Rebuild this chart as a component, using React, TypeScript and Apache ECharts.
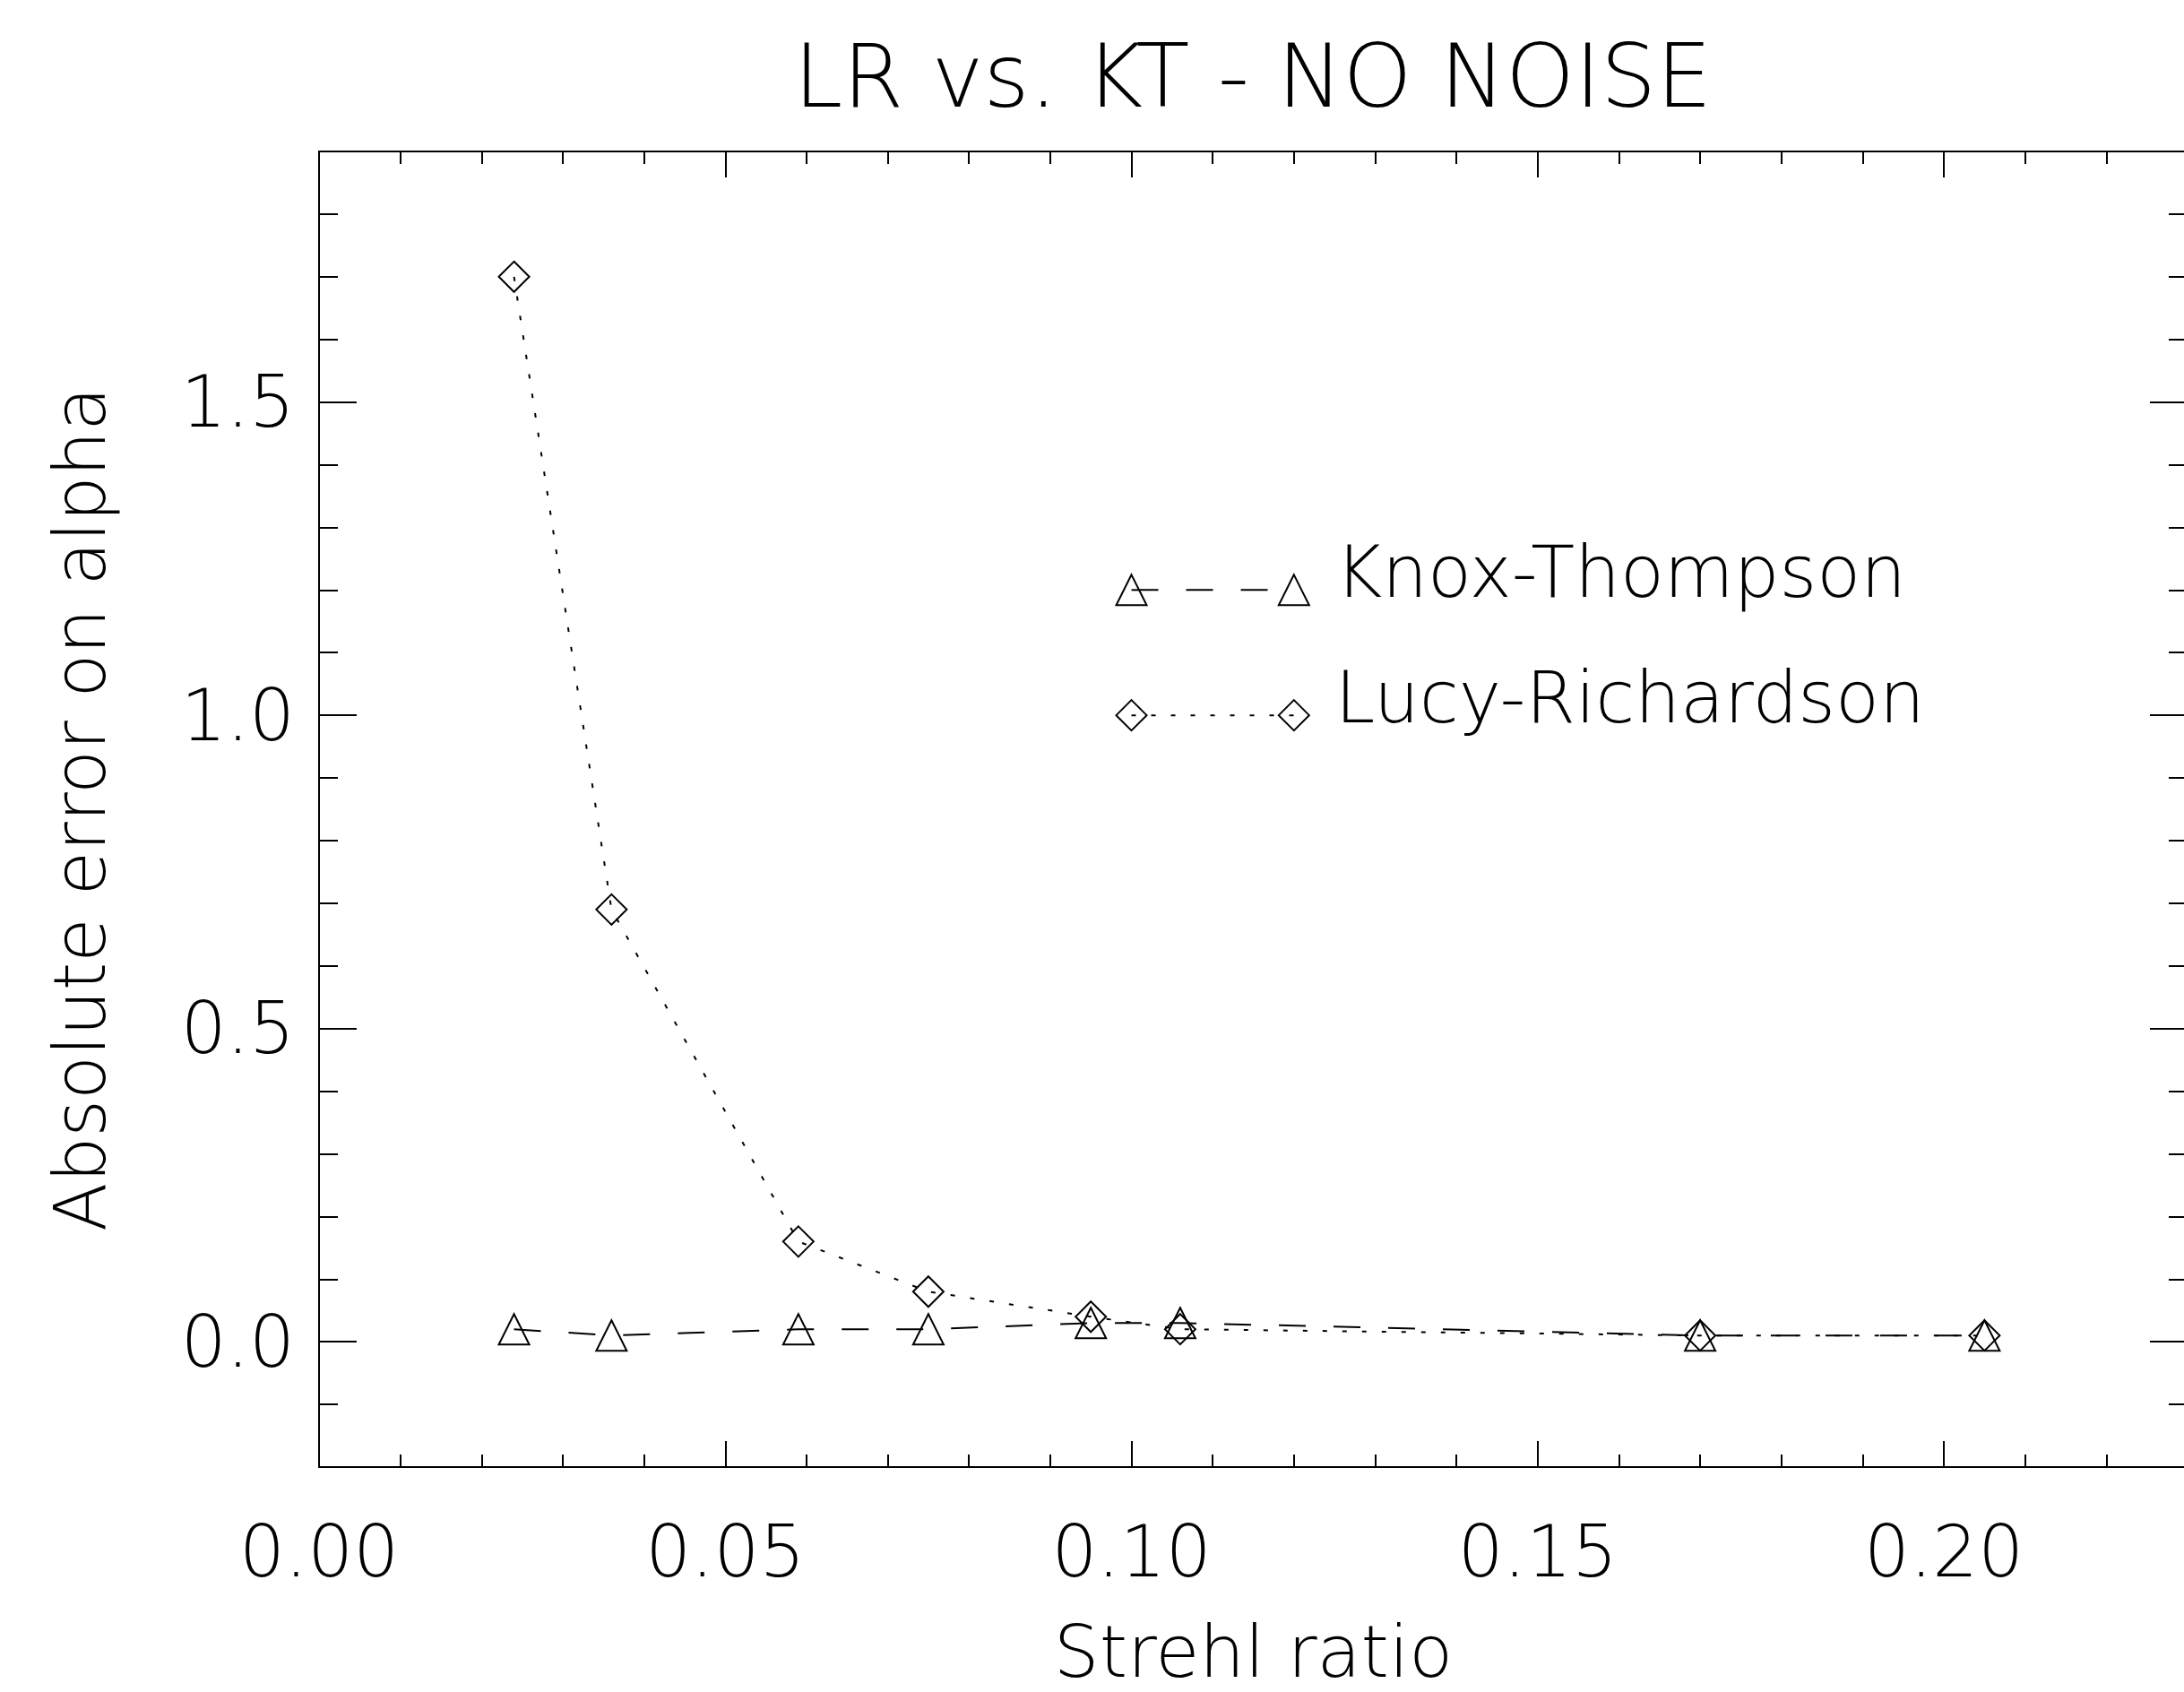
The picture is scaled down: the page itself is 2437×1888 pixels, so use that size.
import React, { useEffect, useRef } from "react";
import * as echarts from "echarts";

// ---- data ----
const strehlRatio = [0.024, 0.036, 0.059, 0.075, 0.095, 0.106, 0.170, 0.205];
const knoxThompson = [0.020, 0.010, 0.020, 0.020, 0.030, 0.030, 0.010, 0.010];
const lucyRichardson = [1.70, 0.69, 0.160, 0.080, 0.040, 0.020, 0.010, 0.010];

// ---- axes ----
const xRange = [0, 0.23];
const yRange = [-0.2, 1.9];
const xMajorTicks = [0.0, 0.05, 0.1, 0.15, 0.2];
const xMinorTicks = [
  0.0, 0.01, 0.02, 0.03, 0.04, 0.05, 0.06, 0.07, 0.08, 0.09, 0.1, 0.11,
  0.12, 0.13, 0.14, 0.15, 0.16, 0.17, 0.18, 0.19, 0.2, 0.21, 0.22, 0.23,
];
const yMajorTicks = [0.0, 0.5, 1.0, 1.5];
const yMinorTicks = [
  -0.2, -0.1, 0.0, 0.1, 0.2, 0.3, 0.4, 0.5, 0.6, 0.7, 0.8, 0.9, 1.0, 1.1,
  1.2, 1.3, 1.4, 1.5, 1.6, 1.7, 1.8, 1.9,
];

// ---- legend (drawn in data space, as in the original) ----
const legendX = [0.1, 0.12];
const legendYKnox = 1.2;
const legendYLucy = 1.0;

// ---- texts ----
const titleText = "LR vs. KT - NO NOISE";
const xAxisName = "Strehl ratio";
const yAxisName = "Absolute error on alpha";
const knoxName = "Knox-Thompson";
const lucyName = "Lucy-Richardson";

const FONT = "'DejaVu Sans', sans-serif";
const FW = 200;
const INK = "#000";

export default function App() {
  const ref = useRef<HTMLDivElement>(null);

  useEffect(() => {
    if (!ref.current) return;
    const chart = echarts.init(ref.current, undefined, { renderer: "svg" });

    const textStyle = { fontFamily: FONT, fontWeight: FW, color: INK };

    const majorX = (pos: string, labels: boolean) => ({
      type: "value",
      position: pos,
      min: xRange[0],
      max: xRange[1],
      axisLine: { show: true, onZero: false, lineStyle: { color: INK, width: 2 } },
      axisTick: {
        show: true,
        inside: true,
        length: 29,
        customValues: xMajorTicks,
        lineStyle: { color: INK, width: 2 },
      },
      axisLabel: labels
        ? {
            show: true,
            customValues: xMajorTicks,
            formatter: (v: number) => v.toFixed(2),
            margin: 54,
            fontSize: 80,
            ...textStyle,
          }
        : { show: false },
      splitLine: { show: false },
      ...(labels
        ? {
            name: xAxisName,
            nameLocation: "middle",
            nameGap: 166,
            nameTextStyle: { fontSize: 80, ...textStyle },
          }
        : {}),
    });
    const minorX = (pos: string) => ({
      type: "value",
      position: pos,
      min: xRange[0],
      max: xRange[1],
      axisLine: { show: false, onZero: false },
      axisTick: {
        show: true,
        inside: true,
        length: 14,
        customValues: xMinorTicks,
        lineStyle: { color: INK, width: 2 },
      },
      axisLabel: { show: false },
      splitLine: { show: false },
    });
    const majorY = (pos: string, labels: boolean) => ({
      type: "value",
      position: pos,
      min: yRange[0],
      max: yRange[1],
      axisLine: { show: true, onZero: false, lineStyle: { color: INK, width: 2 } },
      axisTick: {
        show: true,
        inside: true,
        length: 42,
        customValues: yMajorTicks,
        lineStyle: { color: INK, width: 2 },
      },
      axisLabel: labels
        ? {
            show: true,
            customValues: yMajorTicks,
            formatter: (v: number) => v.toFixed(1),
            margin: 27,
            fontSize: 80,
            ...textStyle,
          }
        : { show: false },
      splitLine: { show: false },
      ...(labels
        ? {
            name: yAxisName,
            nameLocation: "middle",
            nameGap: 227,
            nameTextStyle: { fontSize: 80, ...textStyle },
          }
        : {}),
    });
    const minorY = (pos: string) => ({
      type: "value",
      position: pos,
      min: yRange[0],
      max: yRange[1],
      axisLine: { show: false, onZero: false },
      axisTick: {
        show: true,
        inside: true,
        length: 21,
        customValues: yMinorTicks,
        lineStyle: { color: INK, width: 2 },
      },
      axisLabel: { show: false },
      splitLine: { show: false },
    });

    const hollow = { color: "rgba(0,0,0,0)", borderColor: INK, borderWidth: 2 };
    const kDash = [30, 31];
    const lDot = [5, 17];

    const legendLabel = (text: string) => ({
      show: true,
      formatter: text,
      position: "right",
      distance: 28,
      offset: [0, -20],
      fontSize: 80,
      ...textStyle,
    });

    const option: any = {
      animation: false,
      backgroundColor: "#fff",
      grid: { left: 356, top: 169, width: 2085, height: 1478, containLabel: false },
      xAxis: [majorX("bottom", true), minorX("bottom"), majorX("top", false), minorX("top")],
      yAxis: [majorY("left", true), minorY("left"), majorY("right", false), minorY("right")],
      graphic: [
        {
          type: "text",
          x: 1398,
          y: 85,
          style: {
            text: titleText,
            fontSize: 98,
            fontFamily: FONT,
            fontWeight: FW,
            fill: INK,
            align: "center",
            verticalAlign: "middle",
          },
        },
      ],
      series: [
        {
          name: knoxName,
          type: "line",
          xAxisIndex: 0,
          yAxisIndex: 0,
          data: strehlRatio.map((x, i) => [x, knoxThompson[i]]),
          symbol: "triangle",
          symbolSize: 34,
          itemStyle: hollow,
          lineStyle: { color: INK, width: 2, type: kDash },
          z: 3,
        },
        {
          name: lucyName,
          type: "line",
          xAxisIndex: 0,
          yAxisIndex: 0,
          data: strehlRatio.map((x, i) => [x, lucyRichardson[i]]),
          symbol: "diamond",
          symbolSize: 34,
          itemStyle: hollow,
          lineStyle: { color: INK, width: 2, type: lDot },
          z: 3,
        },
        {
          name: knoxName + " legend",
          type: "line",
          xAxisIndex: 0,
          yAxisIndex: 0,
          data: [
            { value: [legendX[0], legendYKnox] },
            { value: [legendX[1], legendYKnox], label: legendLabel(knoxName) },
          ],
          symbol: "triangle",
          symbolSize: 34,
          itemStyle: hollow,
          lineStyle: { color: INK, width: 2, type: kDash },
          z: 3,
        },
        {
          name: lucyName + " legend",
          type: "line",
          xAxisIndex: 0,
          yAxisIndex: 0,
          data: [
            { value: [legendX[0], legendYLucy] },
            { value: [legendX[1], legendYLucy], label: legendLabel(lucyName) },
          ],
          symbol: "diamond",
          symbolSize: 34,
          itemStyle: hollow,
          lineStyle: { color: INK, width: 2, type: lDot },
          z: 3,
        },
      ],
    };

    chart.setOption(option);
    return () => chart.dispose();
  }, []);

  return (
    <div
      style={{
        position: "absolute",
        left: 0,
        top: 0,
        width: 2437,
        height: 1888,
        overflow: "hidden",
        background: "#fff",
      }}
    >
      <div ref={ref} style={{ width: 2460, height: 1888 }} />
    </div>
  );
}
